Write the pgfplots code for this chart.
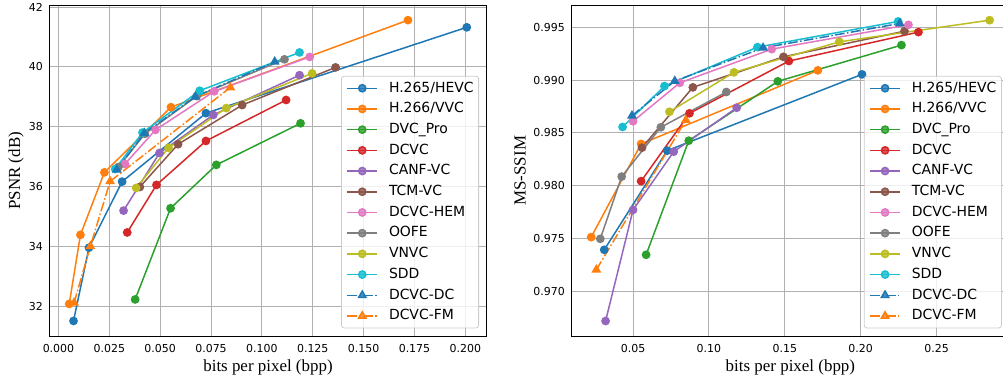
\documentclass[border=0pt]{standalone}
\usepackage{fontspec}
\setmainfont{Liberation Serif}
\newfontfamily\dejavu{DejaVu Sans}
\usepackage{pgfplots}
\pgfplotsset{compat=1.18}
\definecolor{c0}{HTML}{1F77B4}
\definecolor{c1}{HTML}{FF7F0E}
\definecolor{c2}{HTML}{2CA02C}
\definecolor{c3}{HTML}{D62728}
\definecolor{c4}{HTML}{9467BD}
\definecolor{c5}{HTML}{8C564B}
\definecolor{c6}{HTML}{E377C2}
\definecolor{c7}{HTML}{7F7F7F}
\definecolor{c8}{HTML}{BCBD22}
\definecolor{c9}{HTML}{17BECF}
\definecolor{gridgray}{HTML}{B0B0B0}
\definecolor{legendgray}{HTML}{CCCCCC}
\pgfplotsset{
  mystyle/.style={
    scale only axis,
    anchor=south west,
    axis line style={black, line width=1bp},
    grid=major,
    grid style={color=gridgray, line width=0.9bp},
    major tick length=0pt,
    tick style={draw=none},
    ticklabel style={font=\dejavu\fontsize{11}{13}\selectfont},
    xticklabel style={yshift=-5bp},
    yticklabel style={xshift=-3bp},
    /pgf/number format/assume math mode=true,
    label style={font=\fontsize{17}{20}\selectfont},
    xlabel style={at={(axis description cs:0.5,-0.095)}, anchor=center},
    legend cell align=left,
    legend image code/.code={
      \draw[mark repeat=2, mark phase=2, ##1] plot coordinates {(0bp,0bp) (15bp,0bp) (30bp,0bp)};
      \path (41bp,0bp);
    },
    legend style={at={(1,0)}, anchor=south east, xshift=-7.7bp, yshift=7.7bp,
      font=\dejavu\fontsize{14}{16}\selectfont,
      draw=legendgray, line width=0.8bp, rounded corners=2.5bp, fill=white, fill opacity=0.8, text opacity=1,
      inner xsep=5bp, inner ysep=1.6bp, row sep=0pt,
      nodes={inner xsep=0pt, inner ysep=3.6bp, text height=10.5bp, text depth=3bp}},
    every axis plot/.append style={line width=1.5bp, mark size=3.6bp},
    hevc/.style={color=c0, mark=*, solid},
    vvc/.style={color=c1, mark=*, solid},
    dvcpro/.style={color=c2, mark=*, solid},
    dcvc/.style={color=c3, mark=*, solid},
    canf/.style={color=c4, mark=*, solid},
    tcm/.style={color=c5, mark=*, solid},
    hem/.style={color=c6, mark=*, solid},
    oofe/.style={color=c7, mark=*, solid},
    vnvc/.style={color=c8, mark=*, solid},
    sdd/.style={color=c9, mark=*, solid},
    dcvcdc/.style={color=c0, mark=triangle*, mark size=4.2bp, dash pattern=on 9.6bp off 2.4bp on 1.5bp off 2.4bp, mark options={solid}},
    dcvcfm/.style={color=c1, mark=triangle*, mark size=4.2bp, dash pattern=on 9.6bp off 2.4bp on 1.5bp off 2.4bp, mark options={solid}},
  }
}
\begin{document}
\begin{tikzpicture}
\begin{axis}[mystyle,
  at={(49.3bp,-336bp)},
  width=437.4bp, height=330.5bp,
  xmin=-0.0045, xmax=0.2105, ymin=30.997, ymax=42.05,
  xtick={0,0.025,0.05,0.075,0.1,0.125,0.15,0.175,0.2},
  ytick={32,34,36,38,40,42},
  xticklabel style={/pgf/number format/.cd, fixed, fixed zerofill, precision=3},
  yticklabel style={/pgf/number format/.cd, fixed, precision=0},
  xlabel={bits per pixel (bpp)},
  ylabel={PSNR (dB)},
  ylabel style={at={(axis description cs:-0.076,0.5)}, anchor=center},
]
\addplot[hevc] coordinates {(0.0074,31.50)(0.0150,33.95)(0.0313,36.16)(0.0725,38.45)(0.2007,41.32)};
\addlegendentry{H.265/HEVC}
\addplot[vvc] coordinates {(0.0053,32.07)(0.0108,34.38)(0.0226,36.47)(0.0553,38.65)(0.1718,41.56)};
\addlegendentry{H.266/VVC}
\addplot[dvcpro] coordinates {(0.0377,32.22)(0.0551,35.27)(0.0776,36.72)(0.1190,38.11)};
\addlegendentry{DVC\_Pro}
\addplot[dcvc] coordinates {(0.0338,34.46)(0.0482,36.05)(0.0725,37.52)(0.1119,38.89)};
\addlegendentry{DCVC}
\addplot[canf] coordinates {(0.0320,35.19)(0.0497,37.12)(0.0761,38.39)(0.1185,39.72)};
\addlegendentry{CANF-VC}
\addplot[tcm] coordinates {(0.0400,35.98)(0.0588,37.41)(0.0903,38.72)(0.1362,39.98)};
\addlegendentry{TCM-VC}
\addplot[hem] coordinates {(0.0327,36.75)(0.0477,37.89)(0.0766,39.18)(0.1235,40.33)};
\addlegendentry{DCVC-HEM}
\addplot[oofe] coordinates {(0.0295,36.65)(0.0425,37.76)(0.0680,39.02)(0.1111,40.25)};
\addlegendentry{OOFE}
\addplot[vnvc] coordinates {(0.0382,35.95)(0.0541,37.29)(0.0825,38.62)(0.1247,39.78)};
\addlegendentry{VNVC}
\addplot[sdd] coordinates {(0.0279,36.58)(0.0413,37.80)(0.0694,39.20)(0.1185,40.48)};
\addlegendentry{SDD}
\addplot[dcvcdc] coordinates {(0.0287,36.56)(0.0422,37.78)(0.0673,39.00)(0.1063,40.17)};
\addlegendentry{DCVC-DC}
\addplot[dcvcfm] coordinates {(0.0077,32.11)(0.0157,34.00)(0.0254,36.17)(0.0845,39.31)};
\addlegendentry{DCVC-FM}
\end{axis}
\begin{axis}[mystyle,
  at={(571.3bp,-336bp)},
  width=438.2bp, height=330.5bp,
  xmin=0.0093, xmax=0.2981, ymin=0.96577, ymax=0.99706,
  xtick={0.05,0.1,0.15,0.2,0.25},
  ytick={0.970,0.975,0.980,0.985,0.990,0.995},
  xticklabel style={/pgf/number format/.cd, fixed, fixed zerofill, precision=2},
  yticklabel style={/pgf/number format/.cd, fixed, fixed zerofill, precision=3},
  xlabel={bits per pixel (bpp)},
  ylabel={MS-SSIM},
  ylabel style={at={(axis description cs:-0.117,0.5)}, anchor=center},
]
\addplot[hevc] coordinates {(0.0310,0.97393)(0.0725,0.98332)(0.2009,0.99054)};
\addlegendentry{H.265/HEVC}
\addplot[vvc] coordinates {(0.0224,0.97513)(0.0553,0.98395)(0.1718,0.99092)};
\addlegendentry{H.266/VVC}
\addplot[dvcpro] coordinates {(0.0586,0.97346)(0.0867,0.98426)(0.1454,0.98988)(0.2269,0.99331)};
\addlegendentry{DVC\_Pro}
\addplot[dcvc] coordinates {(0.0553,0.98043)(0.0872,0.98685)(0.1527,0.99180)(0.2381,0.99454)};
\addlegendentry{DCVC}
\addplot[canf] coordinates {(0.0319,0.96719)(0.0500,0.97771)(0.0768,0.98322)(0.1183,0.98738)};
\addlegendentry{CANF-VC}
\addplot[tcm] coordinates {(0.0559,0.98360)(0.0894,0.98931)(0.1491,0.99220)(0.2289,0.99463)};
\addlegendentry{TCM-VC}
\addplot[hem] coordinates {(0.0500,0.98610)(0.0808,0.98974)(0.1414,0.99293)(0.2315,0.99523)};
\addlegendentry{DCVC-HEM}
\addplot[oofe] coordinates {(0.0284,0.97497)(0.0425,0.98086)(0.0683,0.98553)(0.1115,0.98887)};
\addlegendentry{OOFE}
\addplot[vnvc] coordinates {(0.0740,0.98700)(0.1165,0.99073)(0.1859,0.99362)(0.2850,0.99567)};
\addlegendentry{VNVC}
\addplot[sdd] coordinates {(0.0431,0.98556)(0.0707,0.98943)(0.1320,0.99312)(0.2247,0.99555)};
\addlegendentry{SDD}
\addplot[dcvcdc] coordinates {(0.0493,0.98663)(0.0775,0.98991)(0.1357,0.99305)(0.2258,0.99536)};
\addlegendentry{DCVC-DC}
\addplot[dcvcfm] coordinates {(0.0258,0.97204)(0.0848,0.98622)};
\addlegendentry{DCVC-FM}
\end{axis}
\pgfresetboundingbox
\useasboundingbox (0bp,0bp) rectangle (1003bp,-379bp);
\end{tikzpicture}
\end{document}
